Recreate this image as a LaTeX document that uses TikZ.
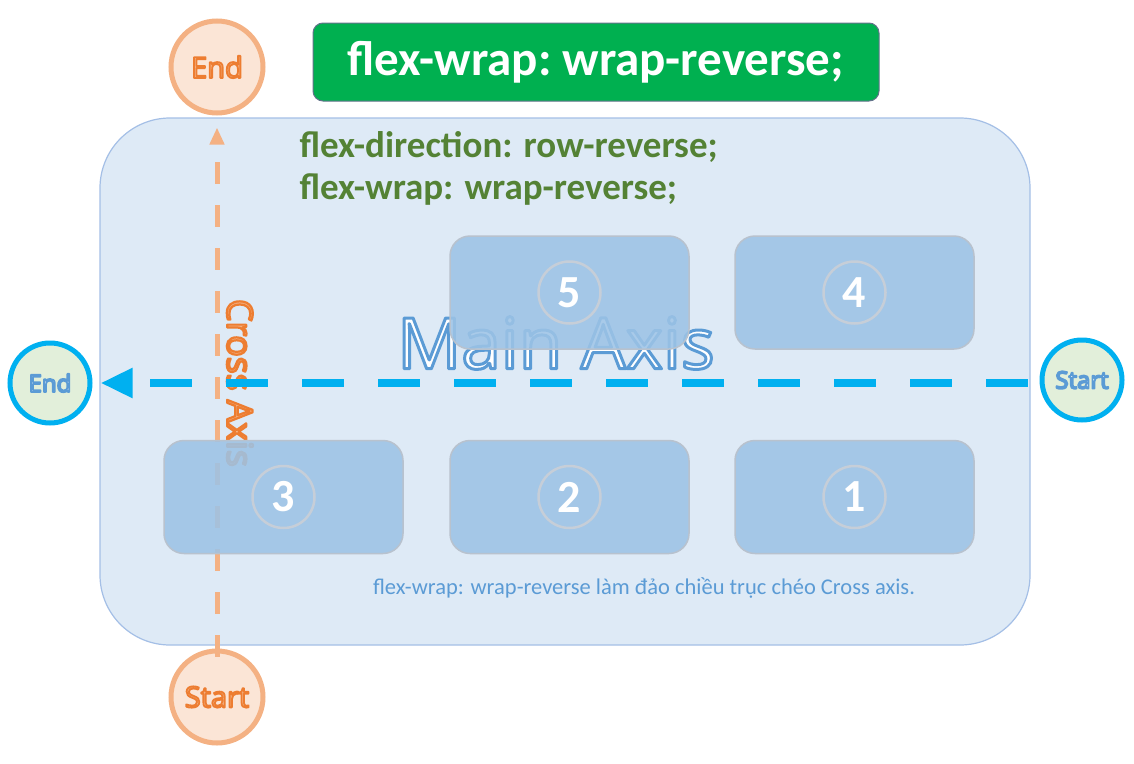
\documentclass[tikz,border=0pt]{standalone}
\usepackage{fontspec}
\setmainfont{Carlito}
\newfontfamily\axisfont{Open Sans}
\usepackage{xcolor}
\usetikzlibrary{arrows.meta, positioning}

\definecolor{panelblue}{HTML}{DEEAF6}
\definecolor{panelline}{HTML}{A4BFE6}
\definecolor{itemblue}{HTML}{9DC3E6}
\definecolor{itemline}{HTML}{B8C2CE}
\definecolor{axiscyan}{HTML}{00B0F0}
\definecolor{axisorange}{HTML}{F4B183}
\definecolor{textorange}{HTML}{ED7D31}
\definecolor{titlegreen}{HTML}{00B050}
\definecolor{codegreen}{HTML}{548235}
\definecolor{noteblue}{HTML}{5B9BD5}
\definecolor{peach}{HTML}{FBE5D6}
\definecolor{mint}{HTML}{E2EFDA}

% outlined text: fill colour, stroke rgb, stroke width, text
\newcommand{\outlinetext}[4]{{\color{#1}\special{pdf:code q 2 Tr #3 w 1 j #2 RG}#4\special{pdf:code Q}}}

\begin{document}
\begin{tikzpicture}[
		x=1pt, y=-1pt,
		panel/.style={draw=panelline, fill=panelblue, line width=1.2pt, rounded corners=70pt},
		item/.style={draw=itemline, fill=itemblue, fill opacity=0.88, line width=1.5pt,
			rounded corners=20pt, minimum width=239pt, minimum height=113pt},
		itemnum/.style={circle, draw=itemline!80!white, line width=2.5pt, minimum size=62pt,
			inner sep=0pt, text=white, font=\fontsize{46}{46}\selectfont\bfseries},
		oendpt/.style={circle, draw=axisorange, fill=peach, line width=5pt, minimum size=92pt,
			inner sep=0pt, font=\axisfont\fontsize{29}{29}\selectfont},
		cendpt/.style={circle, draw=axiscyan, fill=mint, line width=5pt, minimum size=80pt,
			inner sep=0pt, font=\axisfont\fontsize{24}{24}\selectfont},
		mainaxis/.style={draw=axiscyan, line width=8pt, dash pattern=on 42pt off 34pt,
			-{Triangle[length=32pt,width=28pt]}},
		crossaxis/.style={draw=axisorange, line width=5pt, dash pattern=on 22pt off 21pt,
			-{Triangle[length=17pt,width=14pt]}},
		codeline/.style={anchor=west, text=codegreen, font=\fontsize{37}{37}\selectfont\bfseries}
		]
		\useasboundingbox (0,0) rectangle (1134,763);
		
		% Container
		\draw[panel] (100,118) rectangle (1030,645);
		
		% Title
		\node[draw=panelline!60!black, fill=titlegreen, rounded corners=10pt, line width=1pt,
			minimum width=566pt, minimum height=78pt, text=white,
			font=\fontsize{49}{49}\selectfont\bfseries] (title) at (596,62) {flex-wrap:\ wrap-reverse;};
		
		% Properties
		\node[codeline] (dir) at (296,147) {flex-direction: row-reverse;};
		\node[codeline] (wrap) at (296,190) {flex-wrap: wrap-reverse;};
		
		% Axis labels
		\node (mainlbl) at (556,343) {\axisfont\fontsize{71}{71}\selectfont\outlinetext{white}{0.357 0.608 0.835}{3}{Main Axis}};
		\node[rotate=-90] (crosslbl) at (240,383) {\axisfont\fontsize{35.5}{35.5}\selectfont\outlinetext{axisorange}{0.929 0.49 0.192}{2.2}{Cross Axis}};
		
		% Axis end points
		\node[oendpt] (cend) at (217,67) {\outlinetext{axisorange}{0.929 0.49 0.192}{1.8}{End}};
		\node[oendpt] (cstart) at (217,697) {\outlinetext{axisorange}{0.929 0.49 0.192}{1.8}{Start}};
		\node[cendpt] (mend) at (50,383) {\outlinetext{white}{0.357 0.608 0.835}{1.8}{End}};
		\node[cendpt] (mstart) at (1082,380) {\outlinetext{white}{0.357 0.608 0.835}{1.8}{Start}};
		
		% Axes
		\draw[mainaxis] ([xshift=-12pt]mend.east -| mstart.west) -- ([xshift=8pt]mend.east);
		\draw[crossaxis] ([yshift=-8pt]cstart.north) -- ([yshift=-12pt]cend.south);
		
		% Flex items
		\node[item] (i5) at (569.5,292.5) {};
		\node[item] (i4) at (854.5,292.5) {};
		\node[item] (i3) at (283.5,497) {};
		\node[item] (i2) at (569.5,497) {};
		\node[item] (i1) at (854.5,497) {};
		\foreach \k in {1,...,5}
			\node[itemnum] (n\k) at (i\k) {\k};
		
		% Note
		\node[text=noteblue, font=\fontsize{22.5}{22.5}\selectfont] (note) at (644,588)
			{flex-wrap: wrap-reverse làm đảo chiều trục chéo Cross axis.};
		
	\end{tikzpicture}
\end{document}
